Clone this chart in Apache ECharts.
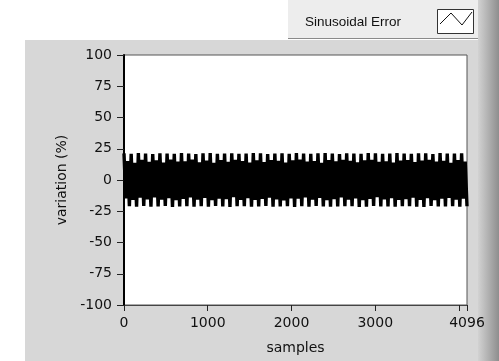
<!DOCTYPE html>
<html>
<head>
<meta charset="utf-8">
<script src="https://cdn.jsdelivr.net/npm/echarts@6/dist/echarts.min.js"></script>
<style>
html,body{margin:0;padding:0;background:#fff;}
#c{width:499px;height:361px;}
</style>
</head>
<body>
<div id="c"></div>
<script>
// ---- data ----
const seriesName = "Sinusoidal Error";
const xTickValues = [0, 1000, 2000, 3000, 4096];
const xMinorTicks = [0, 1000, 2000, 3000, 4000, 4096];
const yMin = -100, yMax = 100, yStep = 25;
const sampleCount = 4096;

// upper crests of the oscillation (%)
const topPeaks = [
  21.3, 20.9, 21.6, 21.1, 20.8, 21.4, 21.2, 21.0, 21.5, 21.1, 20.8, 21.3,
  21.6, 21.0, 21.2, 21.4, 20.9, 21.1, 21.5, 21.3, 20.8, 21.2, 21.4, 21.0,
  21.6, 21.1, 20.9, 21.3, 21.5, 21.2, 20.8, 21.4, 21.1, 21.0, 21.6, 21.3,
  20.9, 21.2, 21.5, 21.1, 21.0, 21.4, 21.3, 20.8, 21.6, 21.2, 21.1, 21.4
];
// lower crests between the upper ones (%)
const topNotches = [
  15.2, 13.8, 16.1, 14.5, 15.7, 13.9, 16.3, 14.8, 15.0, 16.4, 14.2, 15.6,
  13.7, 15.9, 14.6, 16.2, 15.1, 13.9, 15.8, 14.4, 16.0, 15.3, 14.0, 15.7,
  16.3, 14.7, 15.2, 13.8, 15.9, 14.9, 16.1, 15.4, 14.1, 15.8, 16.2, 14.6,
  15.0, 13.9, 15.6, 16.0, 14.3, 15.5, 16.1, 14.8, 15.3, 13.8, 15.9, 14.7
];
// shallow troughs (%)
const bottomNotches = [
  -14.8, -16.0, -14.2, -15.5, -13.9, -15.8, -14.6, -16.2, -15.1, -14.0, -15.7, -14.4,
  -16.1, -14.9, -15.3, -13.8, -15.9, -14.5, -16.0, -15.2, -14.1, -15.6, -16.3, -14.7,
  -15.0, -13.9, -15.8, -14.3, -16.1, -15.4, -14.0, -15.7, -14.8, -16.2, -15.1, -13.8,
  -15.6, -14.5, -16.0, -15.3, -14.2, -15.9, -14.6, -16.1, -15.0, -14.4, -15.7, -14.9
];
// deep troughs (%)
const bottomPeaks = [
  -21.0, -21.4, -20.8, -21.3, -21.1, -20.7, -21.5, -21.2, -20.9, -21.3, -21.0, -21.4,
  -20.8, -21.2, -21.5, -21.0, -20.9, -21.3, -21.1, -20.7, -21.4, -21.2, -20.9, -21.5,
  -21.0, -21.3, -20.8, -21.1, -21.4, -21.2, -20.9, -21.0, -21.5, -21.3, -20.8, -21.1,
  -21.2, -21.4, -20.9, -21.0, -21.3, -21.5, -20.8, -21.2, -21.1, -20.9, -21.4, -21.0
];

// ---- assemble the trace: crest / trough sequence spread over the samples ----
const seq = [];
for (let i = 0; i < topPeaks.length; i++) {
  seq.push(topPeaks[i], bottomNotches[i], topNotches[i], bottomPeaks[i]);
}
const step = sampleCount / (seq.length - 1);
const lineData = seq.map((v, k) => [k * step, v]);

const FONT = "DejaVu Sans";
const chart = echarts.init(document.getElementById('c'), null, {renderer: 'canvas'});
chart.setOption({
  animation: false,
  backgroundColor: '#ffffff',
  grid: {left: 124, right: 32, top: 55, bottom: 56, show: true,
         backgroundColor: '#ffffff', borderColor: '#555', borderWidth: 1},
  xAxis: {
    type: 'value', min: 0, max: sampleCount,
    name: 'samples', nameLocation: 'middle', nameGap: 36,
    nameTextStyle: {fontFamily: FONT, fontSize: 14, color: '#111'},
    axisLine: {show: true, onZero: false, lineStyle: {color: '#444', width: 1}},
    axisTick: {show: true, length: 6, customValues: xMinorTicks, lineStyle: {color: '#222'}},
    axisLabel: {customValues: xTickValues, margin: 11, fontFamily: FONT, fontSize: 14, color: '#111',
                formatter: v => String(Math.round(v))},
    splitLine: {show: false}
  },
  yAxis: {
    type: 'value', min: yMin, max: yMax, interval: yStep,
    name: 'variation (%)', nameLocation: 'middle', nameGap: 52, nameRotate: 90,
    nameTextStyle: {fontFamily: FONT, fontSize: 14, color: '#111'},
    axisLine: {show: true, lineStyle: {color: '#000', width: 2}},
    axisTick: {show: true, length: 7, lineStyle: {color: '#222'}},
    axisLabel: {margin: 12, fontFamily: FONT, fontSize: 14, color: '#111',
                formatter: v => String(Math.round(v))},
    splitLine: {show: false}
  },
  graphic: [
    {type: 'rect', z: -100, shape: {x: 25, y: 40, width: 453, height: 321}, style: {fill: '#d7d7d7'}},
    {type: 'rect', z: -100, shape: {x: 288, y: 0, width: 190, height: 38}, style: {fill: '#ededed'}},
    {type: 'line', z: -99, shape: {x1: 288, y1: 38.5, x2: 478, y2: 38.5}, style: {stroke: '#8a8a8a', lineWidth: 1}},
    {type: 'rect', z: -98, shape: {x: 478, y: 0, width: 21, height: 361},
     style: {fill: new echarts.graphic.LinearGradient(0, 0, 1, 0, [
       {offset: 0, color: '#d2d2d2'}, {offset: 1, color: '#8e8e8e'}])}},
    {type: 'text', z: 50, x: 305, y: 22,
     style: {text: seriesName, font: '13.5px "Liberation Sans"', fill: '#111', verticalAlign: 'middle'}},
    {type: 'rect', z: 50, shape: {x: 437.5, y: 9.5, width: 36, height: 24},
     style: {fill: '#ffffff', stroke: '#333', lineWidth: 1}},
    {type: 'polyline', z: 51, shape: {points: [[440, 24], [451, 13], [462, 25], [472, 12]]},
     style: {stroke: '#111', lineWidth: 1, fill: null}}
  ],
  series: [{
    name: seriesName, type: 'line', data: lineData, showSymbol: false, symbol: 'none',
    lineStyle: {color: '#000', width: 3.4, join: 'bevel'}, sampling: null
  }]
});
</script>
</body>
</html>
